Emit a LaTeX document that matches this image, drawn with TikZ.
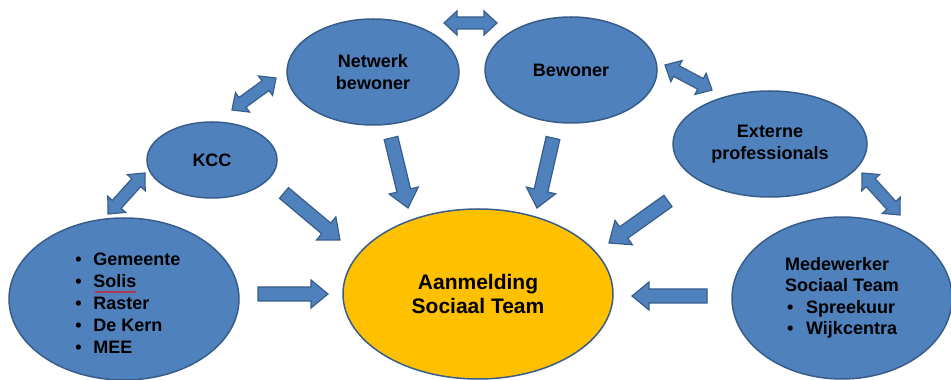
\documentclass[tikz,border=0pt]{standalone}
\usepackage{fontspec}
\setmainfont{Liberation Sans}
\usetikzlibrary{shapes.geometric,calc,decorations.pathmorphing}
\definecolor{bfill}{HTML}{4F81BD}
\definecolor{bline}{HTML}{385D8A}
\definecolor{yfill}{HTML}{FFC000}
\tikzset{
  ell/.style={ellipse, fill=bfill, draw=bline, line width=1.5pt, inner sep=0pt,
    font=\bfseries\fontsize{18}{21.5}\selectfont, align=center},
  blk/.style={fill=bfill, draw=bline, line width=1.2pt, line join=miter},
  txt/.style={inner sep=0pt, align=left},
}
% single block arrow: start, end, shaft half width, head half width, head length
\newcommand\sarrow[5]{%
 \path[blk] let \p1=(#1), \p2=(#2), \n1={atan2(\y2-\y1,\x2-\x1)}, \n2={veclen(\x2-\x1,\y2-\y1)} in
  ($(\p1)+(\n1+90:#3)$) -- ($(\p1)+(\n1:{\n2-#5})+(\n1+90:#3)$) -- ($(\p1)+(\n1:{\n2-#5})+(\n1+90:#4)$) -- (\p2)
  -- ($(\p1)+(\n1:{\n2-#5})+(\n1-90:#4)$) -- ($(\p1)+(\n1:{\n2-#5})+(\n1-90:#3)$) -- ($(\p1)+(\n1-90:#3)$) -- cycle;}
% double block arrow
\newcommand\darrow[5]{%
 \path[blk] let \p1=(#1), \p2=(#2), \n1={atan2(\y2-\y1,\x2-\x1)}, \n2={veclen(\x2-\x1,\y2-\y1)} in
  ($(\p1)+(\n1:#5)+(\n1+90:#3)$) -- ($(\p1)+(\n1:{\n2-#5})+(\n1+90:#3)$) -- ($(\p1)+(\n1:{\n2-#5})+(\n1+90:#4)$) -- (\p2)
  -- ($(\p1)+(\n1:{\n2-#5})+(\n1-90:#4)$) -- ($(\p1)+(\n1:{\n2-#5})+(\n1-90:#3)$)
  -- ($(\p1)+(\n1:#5)+(\n1-90:#3)$) -- ($(\p1)+(\n1:#5)+(\n1-90:#4)$) -- (\p1) -- ($(\p1)+(\n1:#5)+(\n1+90:#4)$) -- cycle;}
\newcommand\bul[1]{\makebox[#1][l]{\textbullet}}
\begin{document}
\begin{tikzpicture}[x=1pt,y=1pt]
\useasboundingbox (0,0) rectangle (951,380);
\fill[white] (0,0) rectangle (951,380);

\node[ell, minimum width=172pt, minimum height=106pt] (net) at (373,308) {Netwerk\\bewoner};
\node[ell, minimum width=172pt, minimum height=106pt] (bew) at (571,310) {Bewoner};
\node[ell, minimum width=130pt, minimum height=76pt] (kcc) at (212,220) {KCC};
\node[ell, minimum width=194pt, minimum height=106pt] (ext) at (770,236) {Externe\\professionals};
\node[ell, minimum width=230pt, minimum height=162pt] (lst) at (124,81) {};
\node[txt, font=\bfseries\fontsize{18}{22}\selectfont] (lsttxt) at (128,77)
  {\bul{18pt}Gemeente\\\bul{18pt}Solis\\\bul{18pt}Raster\\\bul{18pt}De Kern\\\bul{18pt}MEE};
\node[ell, fill=yfill, minimum width=270pt, minimum height=170pt,
      font=\bfseries\fontsize{21}{24}\selectfont] (aan) at (478,86) {Aanmelding\\Sociaal Team};
\node[ell, minimum width=220pt, minimum height=162pt, align=left,
      font=\bfseries\fontsize{18}{21.5}\selectfont] (med) at (842,82)
  {Medewerker\\Sociaal Team\\\hspace*{2pt}\bul{19pt}Spreekuur\\\hspace*{2pt}\bul{19pt}Wijkcentra};

% spell-check underline under Solis
\draw[red, line width=0.6pt, decorate, decoration={snake, amplitude=0.8pt, segment length=3pt}]
  (95,88) -- (136,88);

% arrow end points
\coordinate (d1a) at (444,357); \coordinate (d1b) at (497,357);
\coordinate (d2a) at (232,270); \coordinate (d2b) at (276,302);
\coordinate (d3a) at (108,166); \coordinate (d3b) at (145,207);
\coordinate (d4a) at (665,315); \coordinate (d4b) at (712,290);
\coordinate (d5a) at (862,207); \coordinate (d5b) at (900,165);
\coordinate (s1a) at (391,242); \coordinate (s1b) at (408,172);
\coordinate (s2a) at (553,242); \coordinate (s2b) at (537,172);
\coordinate (s3a) at (284,187); \coordinate (s3b) at (340,140);
\coordinate (s4a) at (668,179); \coordinate (s4b) at (609,137);
\coordinate (s5a) at (258,86);  \coordinate (s5b) at (328,86);
\coordinate (s6a) at (707,84);  \coordinate (s6b) at (632,84);

\darrow{d1a}{d1b}{6pt}{12pt}{13pt}
\darrow{d2a}{d2b}{6pt}{12pt}{13pt}
\darrow{d3a}{d3b}{6pt}{12pt}{13pt}
\darrow{d4a}{d4b}{6pt}{12pt}{13pt}
\darrow{d5a}{d5b}{6pt}{12pt}{13pt}
\sarrow{s1a}{s1b}{7pt}{15pt}{18pt}
\sarrow{s2a}{s2b}{7pt}{15pt}{18pt}
\sarrow{s3a}{s3b}{7pt}{15pt}{18pt}
\sarrow{s4a}{s4b}{7pt}{15pt}{18pt}
\sarrow{s5a}{s5b}{7pt}{14pt}{17pt}
\sarrow{s6a}{s6b}{7pt}{14pt}{17pt}
\end{tikzpicture}
\end{document}
